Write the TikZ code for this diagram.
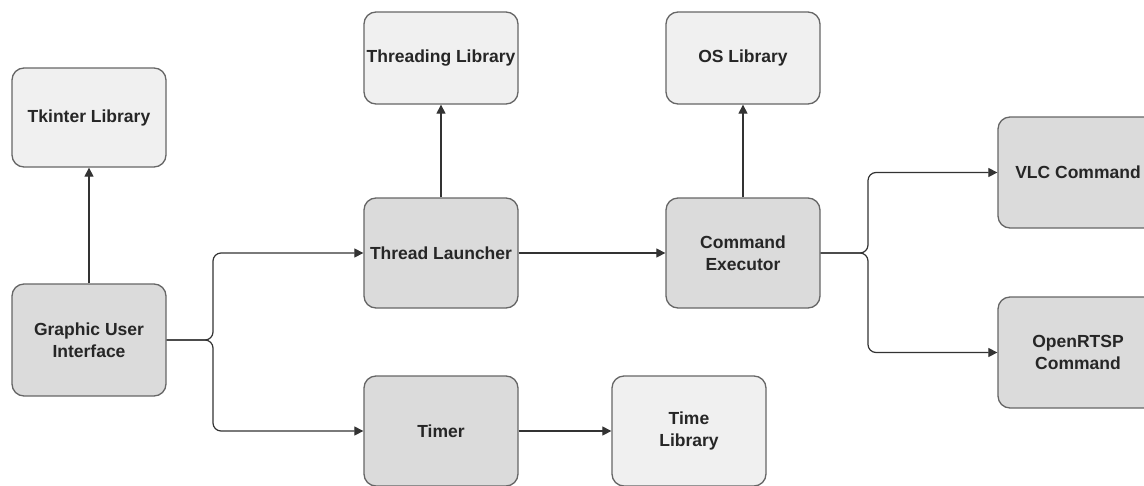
\documentclass[tikz,border=0pt]{standalone}
\usepackage{fontspec}
\setmainfont{Liberation Sans}
\usetikzlibrary{arrows.meta}
\begin{document}
\begin{tikzpicture}[x=1pt,y=-1pt]
  \tikzset{box/.style={draw=black!60, line width=1.3pt, rounded corners=12pt, align=center,
      minimum width=154pt, font=\fontsize{17.5}{22}\selectfont\bfseries, text=black!85, inner sep=0pt},
    libbox/.style={box, fill=black!6},
    modbox/.style={box, fill=black!14},
    conn/.style={draw=black!80, line width=1.2pt, -{Triangle[length=9pt,width=9pt]}}}
  \useasboundingbox (0,0) rectangle (1144,485);
  \node[libbox, minimum height=99pt] at (89,117.5) (tkinter) {Tkinter Library};
  \node[modbox, minimum height=112pt] at (89,340) (gui) {Graphic User\\Interface};
  \node[libbox, minimum height=92pt] at (441,58) (threading) {Threading Library};
  \node[libbox, minimum height=92pt] at (743,58) (oslib) {OS Library};
  \node[modbox, minimum height=110pt] at (441,253) (launcher) {Thread Launcher};
  \node[modbox, minimum height=110pt] at (743,253) (executor) {Command\\Executor};
  \node[modbox, minimum height=111pt, minimum width=160pt] at (1078,172.5) (vlc) {VLC Command};
  \node[modbox, minimum height=111pt, minimum width=160pt] at (1078,352.5) (openrtsp) {OpenRTSP\\Command};
  \node[modbox, minimum height=110pt] at (441,431) (timer) {Timer};
  \node[libbox, minimum height=110pt] at (689,431) (timelib) {Time\\Library};

  \coordinate (guijoin) at (213,340);
  \coordinate (execjoin) at (868,253);
  \draw[conn] (gui.north) -- (tkinter.south);
  \draw[conn, rounded corners=8pt] (gui.east) -- (guijoin) |- (launcher.west);
  \draw[conn, rounded corners=8pt] (gui.east) -- (guijoin) |- (timer.west);
  \draw[conn] (launcher.north) -- (threading.south);
  \draw[conn] (launcher.east) -- (executor.west);
  \draw[conn] (executor.north) -- (oslib.south);
  \draw[conn, rounded corners=8pt] (executor.east) -- (execjoin) |- (vlc.west);
  \draw[conn, rounded corners=8pt] (executor.east) -- (execjoin) |- (openrtsp.west);
  \draw[conn] (timer.east) -- (timelib.west);
\end{tikzpicture}
\end{document}
